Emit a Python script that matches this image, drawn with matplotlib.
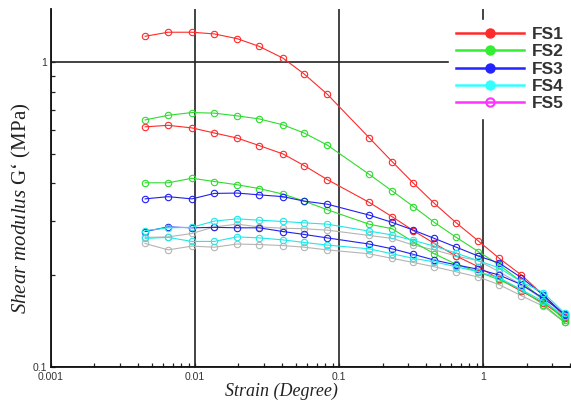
import matplotlib
matplotlib.use("Agg")
import matplotlib.pyplot as plt
from matplotlib.lines import Line2D

# === Fonts ===
plt.rcParams["font.family"] = ["Liberation Sans", "DejaVu Sans"]
plt.rcParams["mathtext.fontset"] = "custom"
plt.rcParams["mathtext.rm"] = "Liberation Serif"
plt.rcParams["mathtext.it"] = "Liberation Serif:italic"

# === Data (strain in degree, G' in MPa) ===
strain = [0.0045, 0.0065, 0.0095, 0.0136, 0.0196, 0.0278, 0.0408, 0.0571, 0.0826,
          0.161, 0.233, 0.327, 0.457, 0.649, 0.923, 1.29, 1.84, 2.61, 3.66]

fs1_a = [1.218, 1.256, 1.256, 1.240, 1.196, 1.129, 1.032, 0.916, 0.786,
         0.566, 0.472, 0.401, 0.344, 0.297, 0.259, 0.227, 0.200, 0.172, 0.146]
fs1_b = [0.614, 0.621, 0.609, 0.586, 0.564, 0.533, 0.500, 0.458, 0.412,
         0.347, 0.311, 0.280, 0.254, 0.231, 0.213, 0.194, 0.177, 0.162, 0.1445]
fs2_a = [0.647, 0.670, 0.684, 0.681, 0.667, 0.652, 0.623, 0.586, 0.535,
         0.429, 0.378, 0.336, 0.298, 0.266, 0.239, 0.216, 0.190, 0.166, 0.142]
fs2_b = [0.402, 0.402, 0.416, 0.406, 0.396, 0.385, 0.369, 0.350, 0.328,
         0.294, 0.284, 0.257, 0.235, 0.217, 0.205, 0.193, 0.179, 0.160, 0.140]
fs3_a = [0.356, 0.362, 0.356, 0.371, 0.372, 0.367, 0.362, 0.350, 0.342,
         0.315, 0.298, 0.281, 0.264, 0.247, 0.231, 0.219, 0.196, 0.172, 0.148]
fs3_b = [0.278, 0.288, 0.286, 0.287, 0.286, 0.286, 0.278, 0.272, 0.265,
         0.253, 0.244, 0.234, 0.224, 0.216, 0.209, 0.200, 0.186, 0.168, 0.149]
fs4_a = [0.280, 0.286, 0.287, 0.301, 0.306, 0.303, 0.300, 0.297, 0.294,
         0.279, 0.271, 0.260, 0.249, 0.236, 0.223, 0.211, 0.190, 0.175, 0.150]
fs4_b = [0.264, 0.266, 0.258, 0.258, 0.267, 0.265, 0.261, 0.256, 0.251,
         0.244, 0.235, 0.227, 0.221, 0.213, 0.205, 0.196, 0.179, 0.164, 0.147]
fs5_a = [0.266, 0.267, 0.274, 0.288, 0.294, 0.288, 0.285, 0.284, 0.281,
         0.270, 0.264, 0.251, 0.242, 0.231, 0.223, 0.205, 0.186, 0.166, 0.1445]
fs5_b = [0.254, 0.242, 0.249, 0.247, 0.253, 0.252, 0.250, 0.247, 0.242,
         0.235, 0.227, 0.220, 0.213, 0.205, 0.197, 0.186, 0.171, 0.158, 0.140]

labels = ["FS1", "FS2", "FS3", "FS4", "FS5"]
line_colors = ["#ff2a2a", "#2edc2e", "#2020f0", "#20e8e8", "#b4b4b4"]
legend_colors = ["#ff2a2a", "#33ee33", "#2424ff", "#33ffff", "#ff33ff"]
series = [(fs1_a, fs1_b), (fs2_a, fs2_b), (fs3_a, fs3_b), (fs4_a, fs4_b), (fs5_a, fs5_b)]

# === Figure ===
fig = plt.figure(figsize=(5.71, 4.07), dpi=100)
ax = fig.add_axes([51 / 571, 1 - 366.7 / 407, 1 - 51 / 571, (366.7 - 9.3) / 407])

# gray curves go underneath, then FS1..FS4
draw_order = [4, 0, 1, 2, 3]
for i in draw_order:
    for ys in series[i]:
        ax.plot(strain, ys, color=line_colors[i], lw=0.8, marker="o", ms=4.6,
                mfc="none", mec=line_colors[i], mew=0.8, zorder=3)

ax.set_xscale("log")
ax.set_yscale("log")
ax.set_xlim(0.001, 4.06)
ax.set_ylim(0.1, 1.494)

ax.set_xticks([0.001, 0.01, 0.1, 1])
ax.set_xticklabels(["0.001", "0.01", "0.1", "1"])
ax.set_yticks([0.1, 1])
ax.set_yticklabels(["0.1", "1"])
ax.tick_params(which="both", direction="in", labelsize=7.5, labelcolor="#333333",
               width=0.9, color="#222222")
ax.tick_params(which="major", length=3)
ax.tick_params(axis="x", which="major", pad=4)
ax.tick_params(axis="y", which="major", pad=3)
ax.tick_params(which="minor", length=3)
ax.yaxis.set_minor_formatter(plt.NullFormatter())
ax.xaxis.set_minor_formatter(plt.NullFormatter())

ax.grid(True, which="major", color="#222222", lw=1.2, zorder=1)
for side in ["top", "right"]:
    ax.spines[side].set_visible(False)
for side in ["left", "bottom"]:
    ax.spines[side].set_linewidth(1.3)
    ax.spines[side].set_color("#111111")

ax.set_xlabel("Strain (Degree)", family="Liberation Serif", style="italic",
              fontsize=13, color="#222222")
ax.set_ylabel(r"$\it{Shear\ modulus}$ G‘ (MPa)", family="Liberation Serif",
              fontsize=15, color="#222222")
ax.xaxis.set_label_coords(0.444, -0.07)
ax.yaxis.set_label_coords(-0.056, 0.444)
ax.xaxis.label.set_va("center")
ax.yaxis.label.set_va("center")

# === Legend ===
handles = []
for i, lab in enumerate(labels):
    face = "none" if lab == "FS5" else legend_colors[i]
    handles.append(Line2D([], [], color=legend_colors[i], lw=1.8, marker="o", ms=6,
                          mfc=face, mec=legend_colors[i], mew=1.5, label=lab))
leg = ax.legend(handles=handles, loc="upper right", bbox_to_anchor=(1.0, 0.97),
                borderaxespad=0, frameon=True, fancybox=False, framealpha=1,
                facecolor="white", edgecolor="white", handlelength=3.9,
                handletextpad=0.5, labelspacing=0.12, borderpad=0.4,
                prop={"family": "Liberation Sans", "size": 12.5, "weight": "bold"})
for t in leg.get_texts():
    t.set_color("#333333")
leg.set_zorder(5)

fig.savefig("out.png", dpi=100)
